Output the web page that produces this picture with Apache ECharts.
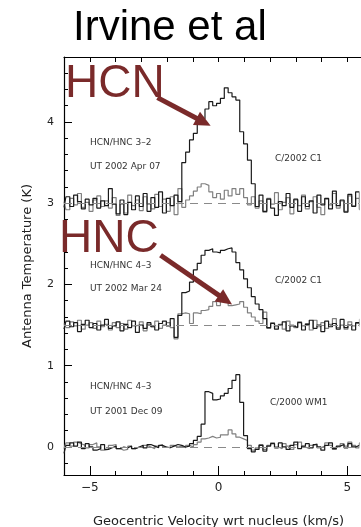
<!DOCTYPE html>
<html>
<head>
<meta charset="utf-8">
<script src="https://cdn.jsdelivr.net/npm/echarts@6/dist/echarts.min.js"></script>
<style>
html,body{margin:0;padding:0;background:#fff;overflow:hidden}
#chart{width:361px;height:527px}
</style>
</head>
<body>
<div id="chart"></div>
<script>
// channel velocities (km/s)
var velocity = [
	-6.00,-5.85,-5.70,-5.55,-5.40,-5.25,-5.10,-4.95,-4.80,-4.65,
	-4.50,-4.35,-4.20,-4.05,-3.90,-3.75,-3.60,-3.45,-3.30,-3.15,
	-3.00,-2.85,-2.70,-2.55,-2.40,-2.25,-2.10,-1.95,-1.80,-1.65,
	-1.50,-1.35,-1.20,-1.05,-0.90,-0.75,-0.60,-0.45,-0.30,-0.15,
	0.00,0.15,0.30,0.45,0.60,0.75,0.90,1.05,1.20,1.35,
	1.50,1.65,1.80,1.95,2.10,2.25,2.40,2.55,2.70,2.85,
	3.00,3.15,3.30,3.45,3.60,3.75,3.90,4.05,4.20,4.35,
	4.50,4.65,4.80,4.95,5.10,5.25,5.40,5.55,5.70,5.85
];

// UT 2002 Apr 07, HCN/HNC 3-2 (offset +3 K)
var hcnApr = [
	2.95,3.08,2.96,3.10,3.02,2.93,3.05,2.98,3.06,2.94,
	3.03,2.97,3.18,2.99,2.87,3.04,2.86,3.01,2.92,3.09,
	2.96,3.12,2.90,3.07,2.95,3.14,2.88,3.06,2.97,3.10,
	3.02,3.50,3.63,3.78,3.86,3.99,4.04,4.16,4.25,4.20,
	4.23,4.29,4.42,4.36,4.31,4.27,3.88,3.73,3.53,3.24,
	2.96,3.10,2.90,3.05,2.94,2.85,3.02,2.97,3.12,2.95,
	3.05,2.90,3.08,2.96,3.03,2.88,3.10,2.98,3.06,2.93,
	3.15,2.97,3.04,2.89,3.11,2.96,3.14,2.92,3.05,2.99
];
var hncApr = [
	3.02,2.92,3.06,2.98,3.12,2.95,3.01,2.90,3.04,3.09,
	2.96,3.03,2.94,3.07,2.85,2.99,2.88,3.10,2.97,3.04,
	2.91,3.08,2.99,2.93,3.11,2.96,3.05,2.90,3.08,2.86,
	3.18,2.95,3.04,3.09,3.15,3.20,3.24,3.22,3.14,3.07,
	3.12,3.05,3.16,3.09,3.18,3.11,3.18,3.07,2.98,3.08,
	2.94,3.03,2.89,3.06,2.99,3.13,2.92,3.01,3.07,2.87,
	3.04,2.97,3.10,2.93,3.02,3.08,2.95,2.86,3.05,2.98,
	3.12,2.94,3.03,2.90,3.09,2.97,3.06,2.93,3.11,3.00
];

// UT 2002 Mar 24, HCN/HNC 4-3 (offset +1.5 K)
var hcnMar = [
	1.45,1.55,1.48,1.53,1.42,1.51,1.56,1.47,1.52,1.44,
	1.50,1.57,1.46,1.49,1.54,1.43,1.51,1.47,1.55,1.41,
	1.50,1.46,1.53,1.48,1.44,1.52,1.55,1.49,1.58,1.35,
	1.62,1.90,1.92,2.03,2.18,2.26,2.36,2.42,2.44,2.40,
	2.39,2.42,2.44,2.45,2.40,2.27,2.18,2.07,1.96,1.85,
	1.76,1.69,1.58,1.47,1.52,1.45,1.50,1.54,1.43,1.49,
	1.47,1.53,1.44,1.51,1.56,1.46,1.50,1.42,1.55,1.48,
	1.52,1.45,1.57,1.47,1.50,1.44,1.53,1.49,1.55,1.48
];
var hncMar = [
	1.52,1.47,1.54,1.49,1.56,1.45,1.50,1.53,1.46,1.55,
	1.48,1.51,1.44,1.53,1.47,1.52,1.45,1.56,1.49,1.50,
	1.54,1.43,1.51,1.48,1.55,1.46,1.50,1.53,1.47,1.33,
	1.64,1.65,1.64,1.52,1.65,1.64,1.68,1.69,1.73,1.79,
	1.74,1.80,1.81,1.74,1.75,1.76,1.79,1.72,1.65,1.60,
	1.55,1.52,1.66,1.46,1.53,1.48,1.51,1.45,1.55,1.50,
	1.47,1.54,1.49,1.52,1.44,1.56,1.48,1.53,1.46,1.51,
	1.58,1.47,1.50,1.45,1.54,1.49,1.52,1.57,1.46,1.51
];

// UT 2001 Dec 09, HCN/HNC 4-3 (no offset)
var hcnDec = [
	-0.08,0.02,0.05,0.01,0.06,-0.02,0.04,0.00,-0.04,-0.02,
	0.03,-0.03,-0.01,0.01,-0.02,0.00,-0.01,0.01,-0.02,0.00,
	0.02,-0.01,0.03,0.01,-0.01,0.02,0.00,-0.01,0.01,0.03,
	0.02,0.00,0.01,0.04,0.08,0.13,0.28,0.68,0.66,0.58,
	0.59,0.63,0.66,0.72,0.82,0.89,0.55,0.14,-0.02,-0.06,
	-0.03,0.02,-0.05,0.01,0.04,-0.01,0.05,0.00,-0.03,0.02,
	0.06,-0.02,0.01,0.04,-0.01,0.03,0.00,-0.04,0.02,0.05,
	-0.02,0.01,0.03,-0.01,0.04,0.00,0.02,0.05,0.01,0.03
];
var hncDec = [
	-0.02,0.05,0.01,0.06,0.04,0.02,-0.01,0.03,0.05,0.00,
	-0.04,-0.03,0.02,0.03,-0.02,-0.04,-0.03,0.01,-0.02,0.00,
	-0.01,0.02,0.00,-0.02,0.01,0.03,0.00,-0.01,0.02,0.00,
	0.01,-0.01,0.02,0.00,0.03,0.06,0.10,0.11,0.13,0.11,
	0.12,0.15,0.15,0.21,0.16,0.12,0.10,0.08,0.02,-0.04,
	-0.01,0.03,-0.03,0.02,0.05,0.00,-0.02,0.04,0.01,-0.03,
	0.03,0.06,0.00,-0.02,0.02,0.04,-0.01,0.01,0.05,0.02,
	-0.03,0.00,0.04,0.01,0.06,0.02,-0.01,0.03,0.07,0.02
];

var baselines = [3, 1.5, 0];
var xTicks = [-5, 0, 5];
var yTicks = [0, 1, 2, 3, 4];
var yMinorTicks = [-0.2, 0.2, 0.4, 0.6, 0.8, 1.2, 1.4, 1.6, 1.8, 2.2, 2.4, 2.6, 2.8, 3.2, 3.4, 3.6, 3.8, 4.2, 4.4, 4.6];

// arrow annotations: [from, to] in velocity / temperature
var arrowHCN = [[-2.37, 4.30], [-0.58, 4.00]];
var arrowHNC = [[-2.25, 2.36], [0.27, 1.81]];

var darkRed = '#7a2a2a';
var smallFont = '9px "DejaVu Sans"';

function pairs(ys) {
	var out = [];
	for (var i = 0; i < velocity.length; i++) {
		out.push([velocity[i], ys[i]]);
	}
	return out;
}

function spectrum(name, ys, color) {
	return {
		name: name,
		type: 'line',
		step: 'middle',
		showSymbol: false,
		silent: true,
		animation: false,
		lineStyle: { color: color, width: 1.2 },
		data: pairs(ys)
	};
}

function note(text, x, y) {
	return {
		type: 'text',
		x: x,
		y: y,
		style: { text: text, font: smallFont, fill: '#333', textVerticalAlign: 'middle' }
	};
}

var chart = echarts.init(document.getElementById('chart'));

var greyApr = spectrum('HNC Apr', hncApr, '#808080');
greyApr.markLine = {
	silent: true,
	symbol: 'none',
	animation: false,
	label: { show: false },
	lineStyle: { color: '#8a8a8a', type: [8, 6], width: 1 },
	data: baselines.map(function (b) { return { yAxis: b }; })
};

var blackDec = spectrum('HCN Dec', hcnDec, '#1a1a1a');
blackDec.markLine = {
	silent: true,
	symbol: ['none', 'triangle'],
	symbolSize: [15, 16],
	animation: false,
	z: 10,
	label: { show: false },
	lineStyle: { color: darkRed, type: 'solid', width: 5 },
	data: [
		[{ coord: arrowHCN[0] }, { coord: arrowHCN[1] }],
		[{ coord: arrowHNC[0] }, { coord: arrowHNC[1] }]
	]
};

var xMin = -6, xMax = 6;

var option = {
	backgroundColor: '#fff',
	animation: false,
	grid: { left: 64, right: -12, top: 57, bottom: 52, outerBoundsMode: 'none' },
	xAxis: [{
		type: 'value', position: 'bottom', min: xMin, max: xMax,
		axisLine: { onZero: false, lineStyle: { color: '#000', width: 1.2 } },
		axisTick: { inside: true, length: 9, customValues: xTicks, lineStyle: { color: '#000' } },
		axisLabel: {
			customValues: xTicks, margin: 7, color: '#222', fontSize: 12, fontFamily: 'DejaVu Sans',
			formatter: function (v) { return v < 0 ? '\u2212' + (-v) : String(v); }
		},
		splitLine: { show: false },
		name: 'Geocentric Velocity wrt nucleus (km/s)',
		nameLocation: 'middle', nameGap: 40,
		nameTextStyle: { color: '#222', fontSize: 13, fontFamily: 'DejaVu Sans' }
	}, {
		type: 'value', position: 'bottom', min: xMin, max: xMax, interval: 1,
		axisLine: { show: false, onZero: false },
		axisTick: { inside: true, length: 4, lineStyle: { color: '#000' } },
		axisLabel: { show: false },
		splitLine: { show: false }
	}, {
		type: 'value', position: 'top', min: xMin, max: xMax, interval: 1,
		axisLine: { onZero: false, lineStyle: { color: '#000', width: 1.2 } },
		axisTick: { inside: true, length: 5, lineStyle: { color: '#000' } },
		axisLabel: { show: false },
		splitLine: { show: false }
	}],
	yAxis: [{
		type: 'value', position: 'left', min: -0.345, max: 4.8,
		axisLine: { show: true, onZero: false, lineStyle: { color: '#000', width: 1.2 } },
		axisTick: { show: true, inside: true, length: 8, customValues: yTicks, lineStyle: { color: '#000' } },
		axisLabel: { customValues: yTicks, margin: 10, color: '#222', fontSize: 11, fontFamily: 'DejaVu Sans' },
		splitLine: { show: false },
		name: 'Antenna Temperature (K)',
		nameLocation: 'middle', nameGap: 30,
		nameTextStyle: { color: '#222', fontSize: 13, fontFamily: 'DejaVu Sans' }
	}, {
		type: 'value', position: 'left', min: -0.345, max: 4.8,
		axisLine: { show: false, onZero: false },
		axisTick: { show: true, inside: true, length: 4, customValues: yMinorTicks, lineStyle: { color: '#000' } },
		axisLabel: { show: false },
		splitLine: { show: false }
	}],
	series: [
		greyApr,
		spectrum('HCN Apr', hcnApr, '#1a1a1a'),
		spectrum('HNC Mar', hncMar, '#808080'),
		spectrum('HCN Mar', hcnMar, '#1a1a1a'),
		spectrum('HNC Dec', hncDec, '#808080'),
		blackDec
	],
	graphic: [
		// hide the stray vertical line at the right edge
		{ type: 'rect', z: 200, shape: { x: 359.4, y: 59, width: 2, height: 414 }, style: { fill: '#fff' }, silent: true },
		{ type: 'text', x: 73, y: 28, style: { text: 'Irvine et al', font: '42px "Liberation Sans"', fill: '#000', textVerticalAlign: 'middle' } },
		{ type: 'text', x: 65, y: 84, z: 100, style: { text: 'HCN', font: '46px "Liberation Sans"', fill: darkRed, textVerticalAlign: 'middle' } },
		{ type: 'text', x: 59, y: 239, z: 100, style: { text: 'HNC', font: '46px "Liberation Sans"', fill: darkRed, textVerticalAlign: 'middle' } },
		note('HCN/HNC 3\u20132', 90, 143),
		note('UT 2002 Apr 07', 90, 167),
		note('C/2002 C1', 275, 159),
		note('HCN/HNC 4\u20133', 90, 266),
		note('UT 2002 Mar 24', 90, 289),
		note('C/2002 C1', 275, 281),
		note('HCN/HNC 4\u20133', 90, 387),
		note('UT 2001 Dec 09', 90, 412),
		note('C/2000 WM1', 270, 403)
	]
};

chart.setOption(option);
</script>
</body>
</html>
